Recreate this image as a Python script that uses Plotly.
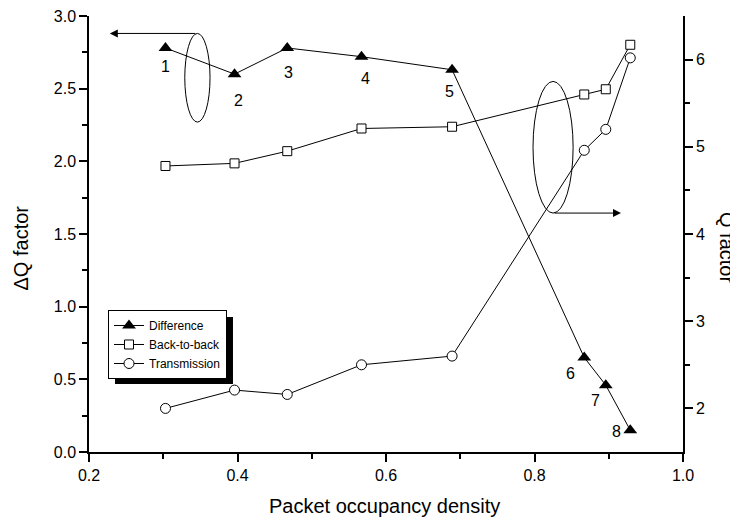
import plotly.graph_objects as go

# ---- data ----
density = [0.303, 0.396, 0.467, 0.567, 0.689, 0.867, 0.896, 0.929]
difference = [2.78, 2.60, 2.78, 2.72, 2.63, 0.65, 0.46, 0.15]
back_to_back = [4.78, 4.81, 4.95, 5.21, 5.23, 5.60, 5.66, 6.17]
transmission = [2.00, 2.21, 2.16, 2.50, 2.60, 4.96, 5.20, 6.02]
point_labels = ["1", "2", "3", "4", "5", "6", "7", "8"]

# label offsets in pixels (styling)
label_dx = [0, 4, 1, 4, -3, -14, -10, -14]
label_dy = [-19, -26, -25, -22, -22, -16, -15, -1]

FONT = "Liberation Sans, Arial, sans-serif"

fig = go.Figure()

fig.add_trace(go.Scatter(
    x=density, y=difference, name="Difference", mode="lines+markers",
    line=dict(color="black", width=1),
    marker=dict(symbol="triangle-up", size=12, color="black"),
    xaxis="x", yaxis="y"))
fig.add_trace(go.Scatter(
    x=density, y=back_to_back, name="Back-to-back", mode="lines+markers",
    line=dict(color="black", width=1),
    marker=dict(symbol="square", size=9, color="white", line=dict(color="black", width=1)),
    xaxis="x", yaxis="y2"))
fig.add_trace(go.Scatter(
    x=density, y=transmission, name="Transmission", mode="lines+markers",
    line=dict(color="black", width=1),
    marker=dict(symbol="circle", size=10, color="white", line=dict(color="black", width=1)),
    xaxis="x", yaxis="y2"))

annotations = []
for xv, yv, t, dx, dy in zip(density, difference, point_labels, label_dx, label_dy):
    annotations.append(dict(x=xv, y=yv, xref="x", yref="y", text=t, showarrow=False,
                            xshift=dx, yshift=dy, font=dict(size=16, color="black", family=FONT)))

# arrows from ellipses to axes
annotations.append(dict(x=0.228, y=2.88, ax=0.345, ay=2.88, xref="x", yref="y",
                        axref="x", ayref="y", showarrow=True, arrowhead=2,
                        arrowsize=1.6, arrowwidth=1, arrowcolor="black", text=""))
annotations.append(dict(x=0.9165, y=1.644, ax=0.825, ay=1.644, xref="x", yref="y",
                        axref="x", ayref="y", showarrow=True, arrowhead=2,
                        arrowsize=1.6, arrowwidth=1, arrowcolor="black", text=""))

# axis titles
annotations.append(dict(x=-0.1145, y=0.469, xref="paper", yref="paper", text="ΔQ factor",
                        textangle=-90, showarrow=False, xanchor="center", yanchor="middle",
                        font=dict(size=20, color="black", family=FONT)))
annotations.append(dict(x=1.0740, y=0.468, xref="paper", yref="paper", text="Q factor",
                        textangle=90, showarrow=False, xanchor="center", yanchor="middle",
                        font=dict(size=20, color="black", family=FONT)))
annotations.append(dict(x=0.498, y=-0.124, xref="paper", yref="paper",
                        text="Packet occupancy density", showarrow=False,
                        xanchor="center", yanchor="middle",
                        font=dict(size=20, color="black", family=FONT)))

shapes = [
    dict(type="circle", xref="x", yref="y", x0=0.329, x1=0.363, y0=2.27, y1=2.88,
         line=dict(color="black", width=1)),
    dict(type="circle", xref="x", yref="y", x0=0.798, x1=0.852, y0=1.644, y1=2.55,
         line=dict(color="black", width=1)),
    # legend shadow
    dict(type="rect", xref="paper", yref="paper", x0=0.0438, x1=0.2424, y0=0.156, y1=0.3096,
         fillcolor="black", line=dict(width=0), layer="above"),
]

tickfont = dict(size=16, color="black", family=FONT)

fig.update_layout(
    width=730, height=514,
    margin=dict(l=81, r=55, t=8, b=70),
    paper_bgcolor="white", plot_bgcolor="white",
    font=dict(family=FONT, color="black"),
    showlegend=True,
    legend=dict(x=0.032, y=0.3257, xanchor="left", yanchor="top",
                bgcolor="white", bordercolor="black", borderwidth=1,
                font=dict(size=12, color="black", family=FONT),
                tracegroupgap=0, itemwidth=30),
    xaxis=dict(range=[0.2, 1.0], tickvals=[0.2, 0.4, 0.6, 0.8, 1.0], tickformat=".1f",
               ticks="outside", ticklen=8, tickwidth=1.5, tickcolor="black",
               showline=True, linewidth=1.5, linecolor="black", showgrid=False,
               zeroline=False, tickfont=tickfont, automargin=False,
               ticklabeloverflow="allow",
               minor=dict(tickvals=[0.3, 0.5, 0.7, 0.9], ticks="outside", ticklen=5,
                          tickwidth=1.5, tickcolor="black", showgrid=False)),
    xaxis2=dict(range=[0.2, 1.0], overlaying="x", side="top", anchor="y",
                tickvals=[0.2, 0.3, 0.4, 0.5, 0.6, 0.7, 0.8, 0.9, 1.0],
                ticks="inside", ticklen=7, tickwidth=1.5, tickcolor="black",
                showticklabels=False, showline=True, linewidth=1.5, linecolor="black",
                showgrid=False, zeroline=False, automargin=False),
    yaxis=dict(range=[0, 3.0], tickvals=[0, 0.5, 1.0, 1.5, 2.0, 2.5, 3.0], tickformat=".1f",
               ticks="outside", ticklen=8, tickwidth=1.5, tickcolor="black",
               showline=True, linewidth=1.5, linecolor="black", showgrid=False,
               zeroline=False, tickfont=tickfont, automargin=False,
               ticklabeloverflow="allow",
               minor=dict(tickvals=[0.25, 0.75, 1.25, 1.75, 2.25, 2.75], ticks="outside",
                          ticklen=5, tickwidth=1.5, tickcolor="black", showgrid=False)),
    yaxis2=dict(range=[1.5, 6.5], overlaying="y", side="right", anchor="x",
                tickvals=[2, 3, 4, 5, 6], ticks="outside", ticklen=8, tickwidth=1.5,
                tickcolor="black", showline=True, linewidth=1.5, linecolor="black",
                showgrid=False, zeroline=False, tickfont=tickfont, automargin=False,
                ticklabeloverflow="allow",
                minor=dict(tickvals=[2.5, 3.5, 4.5, 5.5], ticks="outside", ticklen=5,
                           tickwidth=1.5, tickcolor="black", showgrid=False)),
    annotations=annotations,
    shapes=shapes,
)

fig.write_html("out.html")
